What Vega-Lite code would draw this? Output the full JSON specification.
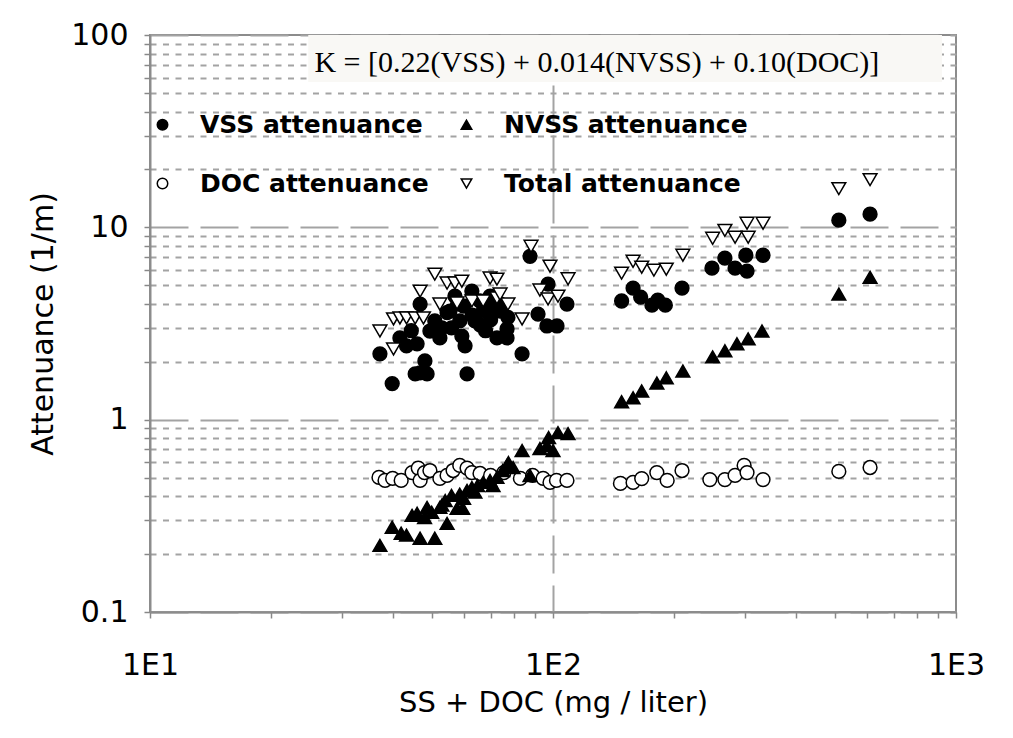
{
  "$schema": "https://vega.github.io/schema/vega-lite/v6.json",
  "width": 806,
  "height": 577,
  "autosize": {"type": "none"},
  "padding": {"left": 150, "top": 35, "right": 57, "bottom": 126},
  "background": "white",
  "config": {
    "view": {"stroke": "#8c8c8c", "strokeWidth": 2},
    "font": "DejaVu Sans",
    "legend": {"orient": "none", "legendX": 0, "legendY": 77, "columns": 2, "direction": "horizontal", "labelFont": "DejaVu Sans", "labelFontSize": 25, "labelFontWeight": "bold", "labelColor": "black", "labelOffset": 25, "labelLimit": 500, "symbolSize": 110, "symbolStrokeWidth": 1.5, "columnPadding": 25, "rowPadding": 33, "padding": 0}
  },
  "datasets": {
    "pts": [
      {"s": "VSS attenuance", "x": 37.2, "v": 2.2}, {"s": "VSS attenuance", "x": 39.9, "v": 1.54}, {"s": "VSS attenuance", "x": 41.7, "v": 2.66}, {"s": "VSS attenuance", "x": 43.3, "v": 2.42}, {"s": "VSS attenuance", "x": 44.5, "v": 2.9}, {"s": "VSS attenuance", "x": 45.5, "v": 1.73}, {"s": "VSS attenuance", "x": 46.0, "v": 2.48}, {"s": "VSS attenuance", "x": 46.8, "v": 1.75}, {"s": "VSS attenuance", "x": 48.1, "v": 2.02}, {"s": "VSS attenuance", "x": 48.7, "v": 1.73}, {"s": "VSS attenuance", "x": 46.8, "v": 3.99}, {"s": "VSS attenuance", "x": 49.5, "v": 2.89}, {"s": "VSS attenuance", "x": 50.9, "v": 3.26}, {"s": "VSS attenuance", "x": 52.4, "v": 2.66}, {"s": "VSS attenuance", "x": 53.0, "v": 3.0}, {"s": "VSS attenuance", "x": 54.6, "v": 3.6}, {"s": "VSS attenuance", "x": 55.5, "v": 3.67}, {"s": "VSS attenuance", "x": 56.0, "v": 3.0}, {"s": "VSS attenuance", "x": 57.1, "v": 4.39}, {"s": "VSS attenuance", "x": 58.0, "v": 4.0}, {"s": "VSS attenuance", "x": 58.7, "v": 3.26}, {"s": "VSS attenuance", "x": 59.4, "v": 2.72}, {"s": "VSS attenuance", "x": 60.0, "v": 3.9}, {"s": "VSS attenuance", "x": 60.5, "v": 2.42}, {"s": "VSS attenuance", "x": 61.2, "v": 1.73}, {"s": "VSS attenuance", "x": 62.9, "v": 4.66}, {"s": "VSS attenuance", "x": 63.0, "v": 3.5}, {"s": "VSS attenuance", "x": 64.0, "v": 3.26}, {"s": "VSS attenuance", "x": 65.9, "v": 4.14}, {"s": "VSS attenuance", "x": 66.0, "v": 3.1}, {"s": "VSS attenuance", "x": 67.1, "v": 3.67}, {"s": "VSS attenuance", "x": 68.0, "v": 2.9}, {"s": "VSS attenuance", "x": 69.8, "v": 4.39}, {"s": "VSS attenuance", "x": 70.0, "v": 3.3}, {"s": "VSS attenuance", "x": 71.0, "v": 3.9}, {"s": "VSS attenuance", "x": 72.6, "v": 2.66}, {"s": "VSS attenuance", "x": 73.9, "v": 3.67}, {"s": "VSS attenuance", "x": 74.0, "v": 4.0}, {"s": "VSS attenuance", "x": 76.9, "v": 2.66}, {"s": "VSS attenuance", "x": 76.9, "v": 2.96}, {"s": "VSS attenuance", "x": 77.3, "v": 3.4}, {"s": "VSS attenuance", "x": 83.8, "v": 2.2}, {"s": "VSS attenuance", "x": 87.7, "v": 7.07}, {"s": "VSS attenuance", "x": 91.8, "v": 3.54}, {"s": "VSS attenuance", "x": 97.2, "v": 5.07}, {"s": "VSS attenuance", "x": 96.6, "v": 3.07}, {"s": "VSS attenuance", "x": 102.3, "v": 3.07}, {"s": "VSS attenuance", "x": 108.3, "v": 3.99},
      {"s": "VSS attenuance", "x": 148, "v": 4.14}, {"s": "VSS attenuance", "x": 158, "v": 4.83}, {"s": "VSS attenuance", "x": 165, "v": 4.34}, {"s": "VSS attenuance", "x": 176, "v": 3.94}, {"s": "VSS attenuance", "x": 182, "v": 4.18}, {"s": "VSS attenuance", "x": 190, "v": 3.94}, {"s": "VSS attenuance", "x": 209, "v": 4.83}, {"s": "VSS attenuance", "x": 248, "v": 6.13}, {"s": "VSS attenuance", "x": 267, "v": 6.91}, {"s": "VSS attenuance", "x": 283, "v": 6.13}, {"s": "VSS attenuance", "x": 303, "v": 5.92}, {"s": "VSS attenuance", "x": 301, "v": 7.16}, {"s": "VSS attenuance", "x": 332, "v": 7.16}, {"s": "VSS attenuance", "x": 512, "v": 10.9}, {"s": "VSS attenuance", "x": 612, "v": 11.7},
      {"s": "DOC attenuance", "x": 37.0, "v": 0.501}, {"s": "DOC attenuance", "x": 38.3, "v": 0.483}, {"s": "DOC attenuance", "x": 40.0, "v": 0.495}, {"s": "DOC attenuance", "x": 42.0, "v": 0.483}, {"s": "DOC attenuance", "x": 44.7, "v": 0.531}, {"s": "DOC attenuance", "x": 46.3, "v": 0.56}, {"s": "DOC attenuance", "x": 46.8, "v": 0.483}, {"s": "DOC attenuance", "x": 48.0, "v": 0.531}, {"s": "DOC attenuance", "x": 49.5, "v": 0.544}, {"s": "DOC attenuance", "x": 52.4, "v": 0.495}, {"s": "DOC attenuance", "x": 54.6, "v": 0.513}, {"s": "DOC attenuance", "x": 56.5, "v": 0.544}, {"s": "DOC attenuance", "x": 58.7, "v": 0.578}, {"s": "DOC attenuance", "x": 61.2, "v": 0.56}, {"s": "DOC attenuance", "x": 62.9, "v": 0.531}, {"s": "DOC attenuance", "x": 65.9, "v": 0.525}, {"s": "DOC attenuance", "x": 70.0, "v": 0.513}, {"s": "DOC attenuance", "x": 75.5, "v": 0.53}, {"s": "DOC attenuance", "x": 83.0, "v": 0.495}, {"s": "DOC attenuance", "x": 89.0, "v": 0.513}, {"s": "DOC attenuance", "x": 94.5, "v": 0.495}, {"s": "DOC attenuance", "x": 98.3, "v": 0.472}, {"s": "DOC attenuance", "x": 102, "v": 0.483}, {"s": "DOC attenuance", "x": 108.3, "v": 0.483},
      {"s": "DOC attenuance", "x": 147, "v": 0.466}, {"s": "DOC attenuance", "x": 158, "v": 0.472}, {"s": "DOC attenuance", "x": 166, "v": 0.494}, {"s": "DOC attenuance", "x": 181, "v": 0.531}, {"s": "DOC attenuance", "x": 192, "v": 0.483}, {"s": "DOC attenuance", "x": 209, "v": 0.544}, {"s": "DOC attenuance", "x": 245, "v": 0.488}, {"s": "DOC attenuance", "x": 267, "v": 0.488}, {"s": "DOC attenuance", "x": 283, "v": 0.513}, {"s": "DOC attenuance", "x": 298, "v": 0.578}, {"s": "DOC attenuance", "x": 303, "v": 0.531}, {"s": "DOC attenuance", "x": 332, "v": 0.488}, {"s": "DOC attenuance", "x": 512, "v": 0.538}, {"s": "DOC attenuance", "x": 612, "v": 0.564},
      {"s": "NVSS attenuance", "x": 37.2, "v": 0.222}, {"s": "NVSS attenuance", "x": 39.9, "v": 0.276}, {"s": "NVSS attenuance", "x": 42.0, "v": 0.257}, {"s": "NVSS attenuance", "x": 43.3, "v": 0.251}, {"s": "NVSS attenuance", "x": 46.8, "v": 0.242}, {"s": "NVSS attenuance", "x": 50.9, "v": 0.242}, {"s": "NVSS attenuance", "x": 44.7, "v": 0.318}, {"s": "NVSS attenuance", "x": 46.0, "v": 0.326}, {"s": "NVSS attenuance", "x": 48.0, "v": 0.31}, {"s": "NVSS attenuance", "x": 48.7, "v": 0.35}, {"s": "NVSS attenuance", "x": 50.0, "v": 0.33}, {"s": "NVSS attenuance", "x": 52.4, "v": 0.35}, {"s": "NVSS attenuance", "x": 53.0, "v": 0.36}, {"s": "NVSS attenuance", "x": 54.6, "v": 0.289}, {"s": "NVSS attenuance", "x": 54.0, "v": 0.38}, {"s": "NVSS attenuance", "x": 56.0, "v": 0.404}, {"s": "NVSS attenuance", "x": 57.8, "v": 0.346}, {"s": "NVSS attenuance", "x": 58.7, "v": 0.41}, {"s": "NVSS attenuance", "x": 59.7, "v": 0.346}, {"s": "NVSS attenuance", "x": 60.0, "v": 0.39}, {"s": "NVSS attenuance", "x": 61.2, "v": 0.429}, {"s": "NVSS attenuance", "x": 62.9, "v": 0.444}, {"s": "NVSS attenuance", "x": 64.0, "v": 0.42}, {"s": "NVSS attenuance", "x": 65.0, "v": 0.455}, {"s": "NVSS attenuance", "x": 67.1, "v": 0.472}, {"s": "NVSS attenuance", "x": 69.8, "v": 0.483}, {"s": "NVSS attenuance", "x": 71.0, "v": 0.455}, {"s": "NVSS attenuance", "x": 72.6, "v": 0.501}, {"s": "NVSS attenuance", "x": 75.0, "v": 0.544}, {"s": "NVSS attenuance", "x": 76.9, "v": 0.578}, {"s": "NVSS attenuance", "x": 77.5, "v": 0.599}, {"s": "NVSS attenuance", "x": 79.6, "v": 0.564}, {"s": "NVSS attenuance", "x": 83.8, "v": 0.691}, {"s": "NVSS attenuance", "x": 87.7, "v": 0.513}, {"s": "NVSS attenuance", "x": 92.8, "v": 0.708}, {"s": "NVSS attenuance", "x": 96.6, "v": 0.733}, {"s": "NVSS attenuance", "x": 100, "v": 0.691}, {"s": "NVSS attenuance", "x": 97.5, "v": 0.807}, {"s": "NVSS attenuance", "x": 102.9, "v": 0.856}, {"s": "NVSS attenuance", "x": 109, "v": 0.846},
      {"s": "NVSS attenuance", "x": 148, "v": 1.24}, {"s": "NVSS attenuance", "x": 158, "v": 1.3}, {"s": "NVSS attenuance", "x": 166, "v": 1.41}, {"s": "NVSS attenuance", "x": 181, "v": 1.55}, {"s": "NVSS attenuance", "x": 191, "v": 1.65}, {"s": "NVSS attenuance", "x": 210, "v": 1.79}, {"s": "NVSS attenuance", "x": 249, "v": 2.12}, {"s": "NVSS attenuance", "x": 267, "v": 2.28}, {"s": "NVSS attenuance", "x": 286, "v": 2.48}, {"s": "NVSS attenuance", "x": 305, "v": 2.63}, {"s": "NVSS attenuance", "x": 330, "v": 2.89}, {"s": "NVSS attenuance", "x": 512, "v": 4.5}, {"s": "NVSS attenuance", "x": 612, "v": 5.5},
      {"s": "Total attenuance", "x": 37.2, "v": 2.89}, {"s": "Total attenuance", "x": 40.2, "v": 2.33}, {"s": "Total attenuance", "x": 40.2, "v": 3.34}, {"s": "Total attenuance", "x": 41.7, "v": 3.38}, {"s": "Total attenuance", "x": 43.3, "v": 3.38}, {"s": "Total attenuance", "x": 45.5, "v": 3.38}, {"s": "Total attenuance", "x": 47.7, "v": 3.38}, {"s": "Total attenuance", "x": 46.8, "v": 4.66}, {"s": "Total attenuance", "x": 50.9, "v": 5.71}, {"s": "Total attenuance", "x": 54.6, "v": 5.13}, {"s": "Total attenuance", "x": 57.1, "v": 5.13}, {"s": "Total attenuance", "x": 59.4, "v": 5.25}, {"s": "Total attenuance", "x": 69.8, "v": 5.45}, {"s": "Total attenuance", "x": 72.6, "v": 5.38}, {"s": "Total attenuance", "x": 52.4, "v": 3.99}, {"s": "Total attenuance", "x": 57.8, "v": 4.04}, {"s": "Total attenuance", "x": 62.9, "v": 4.14}, {"s": "Total attenuance", "x": 67.1, "v": 4.14}, {"s": "Total attenuance", "x": 72.6, "v": 4.29}, {"s": "Total attenuance", "x": 77.3, "v": 3.99}, {"s": "Total attenuance", "x": 73.9, "v": 4.5}, {"s": "Total attenuance", "x": 83.8, "v": 3.34}, {"s": "Total attenuance", "x": 88.2, "v": 7.97}, {"s": "Total attenuance", "x": 98.3, "v": 6.28}, {"s": "Total attenuance", "x": 109, "v": 5.4}, {"s": "Total attenuance", "x": 92.8, "v": 4.72}, {"s": "Total attenuance", "x": 97.2, "v": 4.24}, {"s": "Total attenuance", "x": 102.9, "v": 4.39},
      {"s": "Total attenuance", "x": 148, "v": 5.78}, {"s": "Total attenuance", "x": 158, "v": 6.66}, {"s": "Total attenuance", "x": 166, "v": 6.2}, {"s": "Total attenuance", "x": 178, "v": 5.99}, {"s": "Total attenuance", "x": 191, "v": 6.06}, {"s": "Total attenuance", "x": 210, "v": 7.16}, {"s": "Total attenuance", "x": 249, "v": 8.77}, {"s": "Total attenuance", "x": 267, "v": 9.64}, {"s": "Total attenuance", "x": 283, "v": 8.88}, {"s": "Total attenuance", "x": 305, "v": 8.88}, {"s": "Total attenuance", "x": 303, "v": 10.5}, {"s": "Total attenuance", "x": 332, "v": 10.5}, {"s": "Total attenuance", "x": 512, "v": 15.9}, {"s": "Total attenuance", "x": 612, "v": 17.7}
    ]
  },
  "layer": [
    {
      "data": {"values": [{}]},
      "mark": {"type": "rect", "fill": "#f9f8f5", "strokeWidth": 0},
      "encoding": {
        "x": {"datum": 24.7, "type": "quantitative", "scale": {"type": "log", "domain": [10, 1000], "nice": false}},
        "x2": {"datum": 923},
        "y": {"datum": 57, "type": "quantitative", "scale": {"type": "log", "domain": [0.1, 100], "nice": false}},
        "y2": {"datum": 100}
      }
    },
    {
      "data": {"values": [{}]},
      "mark": {"type": "text", "text": "K = [0.22(VSS) + 0.014(NVSS) + 0.10(DOC)]", "font": "Liberation Serif", "fontSize": 30, "align": "center", "baseline": "middle", "color": "black"},
      "encoding": {
        "x": {"datum": 128.5, "type": "quantitative", "scale": {"type": "log", "domain": [10, 1000], "nice": false}},
        "y": {"datum": 71.6, "type": "quantitative", "scale": {"type": "log", "domain": [0.1, 100], "nice": false}}
      }
    },
    {
      "data": {"name": "pts"},
      "mark": {"type": "point", "filled": true, "size": 190, "strokeWidth": 1.5, "opacity": 1},
      "encoding": {
        "x": {
          "field": "x", "type": "quantitative",
          "scale": {"type": "log", "domain": [10, 1000], "nice": false},
          "axis": {
            "title": "SS + DOC  (mg / liter)",
            "values": [10, 20, 30, 40, 50, 60, 70, 80, 90, 100, 200, 300, 400, 500, 600, 700, 800, 900, 1000],
            "labelExpr": "abs(log(datum.value)/LN10 - round(log(datum.value)/LN10)) < 0.01 ? '1E' + round(log(datum.value)/LN10) : ''",
            "labelOverlap": false,
            "labelFont": "DejaVu Sans", "labelFontSize": 30, "labelColor": "black", "labelPadding": 32,
            "labelFlush": false,
            "tickSize": 6, "tickColor": "#888", "tickWidth": 1.5,
            "domainColor": "#8c8c8c", "domainWidth": 2,
            "grid": true,
            "gridColor": {"condition": {"test": "datum.value == 100", "value": "#a3a3a3"}, "value": "transparent"},
            "gridDash": [38, 12], "gridWidth": 2,
            "titleFont": "DejaVu Sans", "titleFontSize": 29, "titleFontWeight": "normal", "titleColor": "black", "titlePadding": 8
          }
        },
        "y": {
          "field": "v", "type": "quantitative",
          "scale": {"type": "log", "domain": [0.1, 100], "nice": false},
          "axis": {
            "title": "Attenuance (1/m)",
            "values": [0.1, 0.2, 0.3, 0.4, 0.5, 0.6, 0.7, 0.8, 0.9, 1, 2, 3, 4, 5, 6, 7, 8, 9, 10, 20, 30, 40, 50, 60, 70, 80, 90, 100],
            "format": "~g",
            "labelExpr": "abs(log(datum.value)/LN10 - round(log(datum.value)/LN10)) < 0.01 ? datum.label : ''",
            "labelOverlap": false,
            "labelFont": "DejaVu Sans", "labelFontSize": 30, "labelColor": "black", "labelPadding": 16,
            "labelFlush": false,
            "tickSize": 6, "tickColor": "#888", "tickWidth": 1.5,
            "domainColor": "#8c8c8c", "domainWidth": 2,
            "grid": true,
            "gridColor": "#a3a3a3", "gridWidth": 2,
            "gridDash": {"condition": {"test": "abs(log(datum.value)/LN10 - round(log(datum.value)/LN10)) < 0.01", "value": [38, 12]}, "value": [6, 6.5]},
            "titleFont": "DejaVu Sans", "titleFontSize": 30, "titleFontWeight": "normal", "titleColor": "black", "titlePadding": 12
          }
        },
        "shape": {
          "field": "s", "type": "nominal", "title": null,
          "scale": {"domain": ["VSS attenuance", "NVSS attenuance", "DOC attenuance", "Total attenuance"], "range": ["circle", "triangle-up", "circle", "triangle-down"]}
        },
        "fill": {
          "field": "s", "type": "nominal", "title": null,
          "scale": {"domain": ["VSS attenuance", "NVSS attenuance", "DOC attenuance", "Total attenuance"], "range": ["black", "black", "white", "white"]}
        },
        "stroke": {
          "field": "s", "type": "nominal", "title": null,
          "scale": {"domain": ["VSS attenuance", "NVSS attenuance", "DOC attenuance", "Total attenuance"], "range": ["black", "black", "black", "black"]}
        }
      }
    }
  ]
}
